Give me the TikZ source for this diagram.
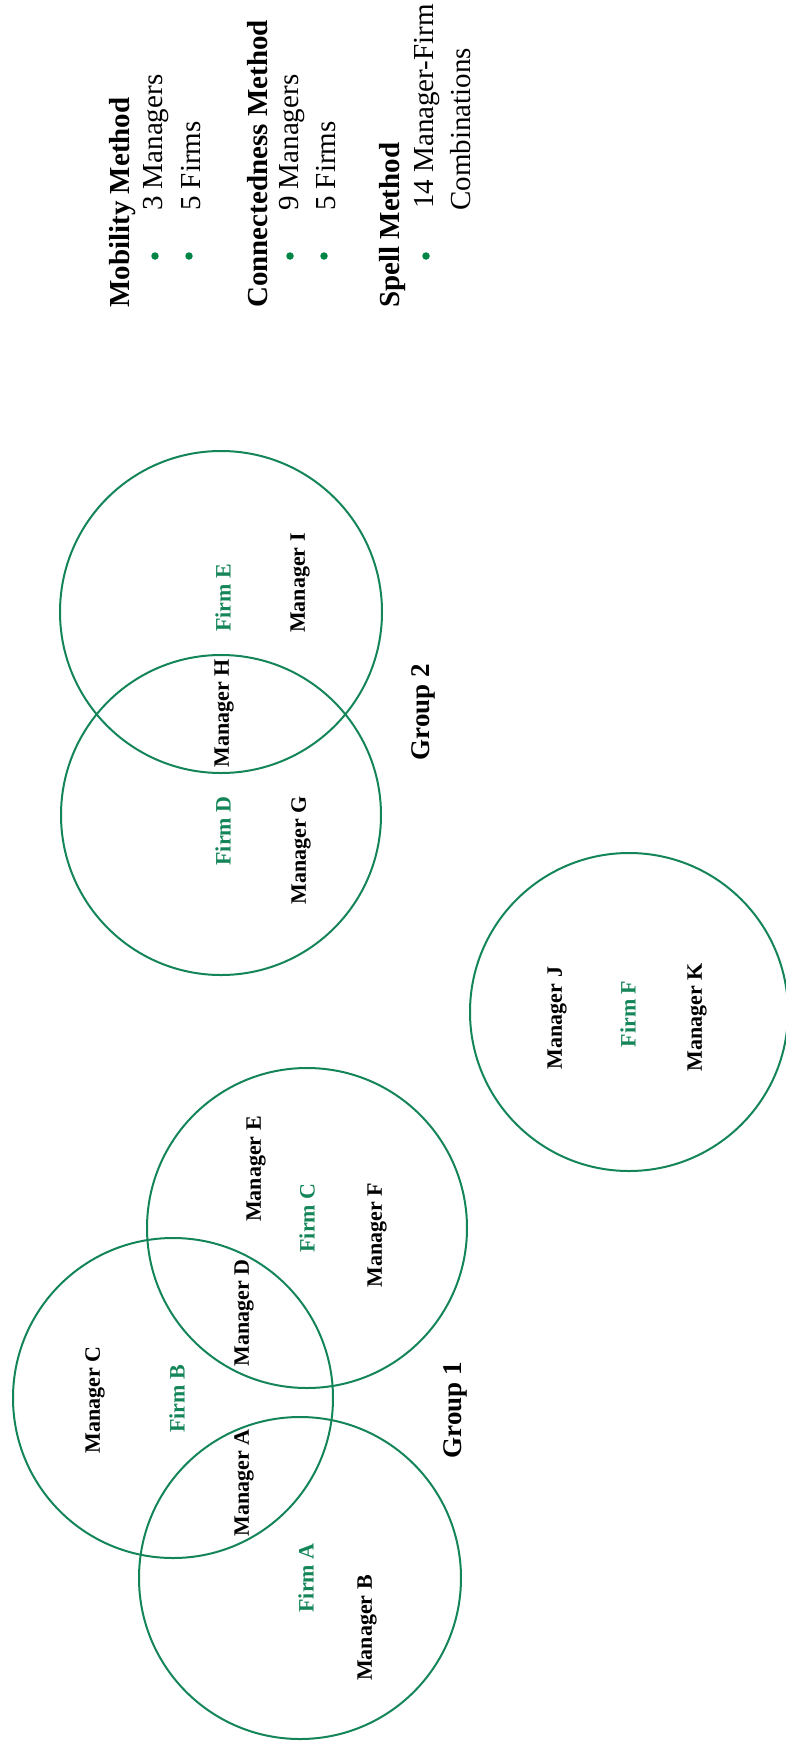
\documentclass[tikz,border=0pt]{standalone}
\usepackage{fontspec}
\setmainfont{Liberation Serif}
\definecolor{firmgreen}{RGB}{20,133,88}
\definecolor{bulletgreen}{RGB}{0,133,70}
\begin{document}
\begin{tikzpicture}[x=1pt,y=-1pt,
  firmcirc/.style={circle,draw=firmgreen,line width=2pt,inner sep=0pt,outer sep=0pt},
  mgr/.style={rotate=90,inner sep=0pt,font=\fontsize{22}{26}\selectfont\bfseries},
  firm/.style={mgr,text=firmgreen},
  grp/.style={rotate=90,inner sep=0pt,font=\fontsize{27}{32}\selectfont\bfseries},
  lhead/.style={rotate=90,anchor=west,inner sep=0pt,font=\fontsize{29}{34}\selectfont\bfseries},
  litem/.style={rotate=90,anchor=west,inner sep=0pt,font=\fontsize{29}{34}\selectfont},
  bul/.style={circle,fill=bulletgreen,inner sep=0pt,minimum size=7.5pt}]
\useasboundingbox (0,0) rectangle (786,1749);

% circles
\node[firmcirc,minimum size=320pt] (cB) at (173,1398) {};
\node[firmcirc,minimum size=320pt] (cC) at (307,1228) {};
\node[firmcirc,minimum size=322pt] (cA) at (300,1578) {};
\node[firmcirc,minimum size=320pt] (cD) at (221,815) {};
\node[firmcirc,minimum size=322pt] (cE) at (221,612) {};
\node[firmcirc,minimum size=318pt] (cF) at (629,1012) {};

% Group 1 labels
\node[mgr] (mC) at (95,1400) {Manager C};
\node[firm] (fB) at (177,1399) {Firm B};
\node[mgr] (mA) at (244,1483) {Manager A};
\node[mgr] (mD) at (244,1313) {Manager D};
\node[mgr] (mE) at (256,1169) {Manager E};
\node[firm] (fC) at (307,1218) {Firm C};
\node[mgr] (mF) at (377,1235) {Manager F};
\node[firm] (fA) at (306,1578) {Firm A};
\node[mgr] (mB) at (367,1628) {Manager B};
\node[grp] (g1) at (455,1410) {Group 1};

% Group 2 labels
\node[firm] (fE) at (223,598) {Firm E};
\node[mgr] (mH) at (224,713) {Manager H};
\node[firm] (fD) at (223,831) {Firm D};
\node[mgr] (mI) at (300,583) {Manager I};
\node[mgr] (mG) at (301,850) {Manager G};
\node[grp] (g2) at (423,712) {Group 2};

% Firm F labels
\node[mgr] (mJ) at (557,1018) {Manager J};
\node[firm] (fF) at (628,1014) {Firm F};
\node[mgr] (mK) at (697,1017) {Manager K};

% legend
\node[lhead] (h1) at (123,308) {Mobility Method};
\node[bul] (b1) at (155,256) {};
\node[litem] (t1) at (156.5,211) {3 Managers};
\node[bul] (b2) at (189,256) {};
\node[litem] (t2) at (191,211) {5 Firms};

\node[lhead] (h2) at (257.5,308) {Connectedness Method};
\node[bul] (b3) at (290,256) {};
\node[litem] (t3) at (292,211) {9 Managers};
\node[bul] (b4) at (324,256) {};
\node[litem] (t4) at (326,211) {5 Firms};

\node[lhead] (h3) at (393,308) {Spell Method};
\node[bul] (b5) at (426,256) {};
\node[litem] (t5) at (427,209) {14 Manager-Firm};
\node[litem] (t6) at (461,211) {Combinations};
\end{tikzpicture}
\end{document}
